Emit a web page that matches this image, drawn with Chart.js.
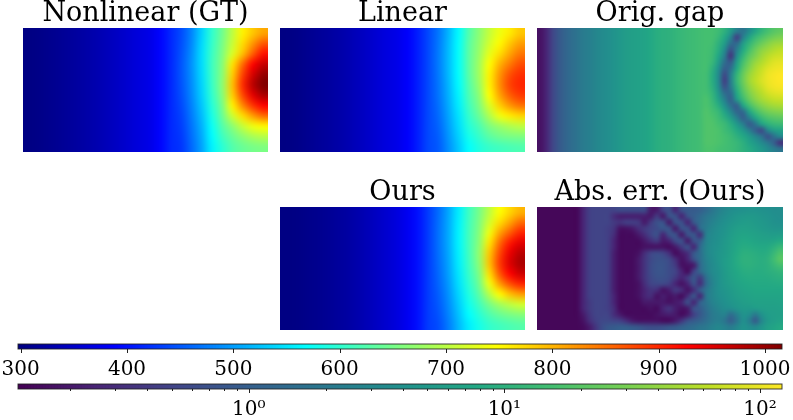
<!DOCTYPE html>
<html><head><meta charset="utf-8">
<script src="https://cdn.jsdelivr.net/npm/chart.js@4"></script>
<style>html,body{margin:0;padding:0;background:#fff;width:793px;height:420px;overflow:hidden}canvas{position:absolute;display:block}</style>
</head><body>
<script>
const titles=["Nonlinear (GT)","Linear","Orig. gap","Ours","Abs. err. (Ours)"];
const jetTicks=[300,400,500,600,700,800,900,1000];
const logMajor=[1,10,100];
const logMajorLabels=["10⁰","10¹","10²"];
const logMinor=[0.2,0.3,0.4,0.5,0.6,0.7,0.8,0.9,2,3,4,5,6,7,8,9,20,30,40,50,60,70,80,90];
const jetRange=[297.5,1016];
const logRange=[0.125,122];

const gtLeft=[300,303,307,311,316,321,327,333,340,348,356,364,372,390,415];
const gtRight=[
[440,480,535,600,645,700,755,785,810],
[442,483,540,603,650,707,770,820,865],
[445,487,543,607,655,720,790,860,915],
[447,490,542,610,660,765,850,925,965],
[447,488,540,608,662,780,880,955,1000],
[445,486,537,605,665,790,895,975,1015],
[442,483,533,600,660,780,875,945,985],
[438,478,527,592,650,755,830,890,925],
[434,473,520,583,640,710,770,815,850],
[430,468,513,573,625,665,705,735,750],
[427,464,507,565,610,640,665,685,695],
[424,460,502,558,595,625,640,650,655]];
const linLeft=[300,303,308,313,318,324,331,339,347,356,365,372,385,408,437];
const linRight=[
[470,515,565,625,665,705,735,760,785],
[472,518,568,630,670,715,750,785,815],
[473,520,570,632,675,730,770,810,843],
[473,520,570,632,680,745,800,840,872],
[472,518,568,630,680,755,820,870,893],
[470,515,565,625,675,755,825,880,900],
[468,512,560,620,665,745,810,860,885],
[465,508,555,612,655,720,780,820,845],
[461,503,548,603,640,690,735,760,775],
[457,498,542,592,620,655,675,690,700],
[453,493,535,580,605,630,645,652,655],
[450,488,528,568,590,605,612,618,622]];
const oursLeft=[300,301,304,307,311,316,321,328,336,345,354,364,378,398,428];
const oursRight=[
[463,505,555,610,650,700,745,775,800],
[465,507,558,613,655,715,770,810,850],
[466,508,560,615,660,735,810,860,900],
[466,508,560,615,665,765,850,910,945],
[465,506,558,613,670,785,875,940,975],
[463,503,555,610,665,790,885,950,985],
[460,500,550,605,655,770,865,925,960],
[457,495,545,597,645,735,815,870,900],
[453,490,538,588,630,695,750,790,815],
[449,485,531,578,612,650,680,700,715],
[445,480,524,566,595,622,640,652,660],
[441,475,517,555,582,602,612,620,626]];
const gapLeft=[.17,.25,.5,.8,1.1,1.4,1.7,2.1,2.4,2.8,3.2,3.6,4.2,4.8,5.5,5.9,6.3,6.8,7.8,8.9,9.6,10,11,12,13,13.7,14.7];
const gapRight=[
[15.5,15.5,13.7,10,5.5,2.3,1.7,3.4,6.8,11,15.5,19.5,22],
[15.5,15.5,12,7.8,2.8,.45,2.3,6.8,12,17,22,27,31],
[15.5,14.7,10,5.5,1.5,1.3,5.5,11,18,25,33,41,44],
[15.5,13.7,8.9,3.4,.7,2.3,7.8,15.5,25,36,44,53,61],
[15.5,13,7.3,2.3,.35,3.4,11,21,31,44,57,70,75],
[15.5,12,5.5,1.5,.87,5.5,15.5,27,41,53,70,87,93],
[15.5,10,3.9,1,1.5,7.8,19.5,33,50,66,87,100,107],
[14.7,8.9,3.2,.57,2.3,11,24,41,57,75,100,114,122],
[14.7,8.9,3.2,.45,2.3,12,25,44,61,81,100,114,122],
[14.7,9.6,3.6,.7,2,10,22,38,53,70,93,107,114],
[15.5,11,4.8,1.4,1.3,7.8,18,31,44,57,75,87,93],
[17,12,6.3,2.4,1,5.1,13,24,36,47,57,66,70],
[17,13.7,8.9,3.9,1.5,1,6.8,14.7,24,33,41,47,50],
[18,15.5,12,6.8,3,1.15,1.3,6.8,13.7,21,27,31,33],
[18,17,13.7,9.6,5.5,2.4,1,2.3,6.8,12,17,19.5,21],
[18,18,15.5,13,8.9,4.8,2.4,.87,1.7,5.9,9.6,12,13],
[18,18,17,13.7,11,7.8,4.8,2.4,1,.57,2.8,5.5,6.8],
[18,18,17,15.5,13,10,7.8,5.1,3,1.7,.7,1.5,3],
[18,18,17,15.5,13.7,12,9.6,6.8,4.8,3.2,2,1,.33],
[17,17,15.5,14.7,13.7,12,10,8.4,6.3,4.8,3.4,2.3,1.7]];
const errLeft=[.14,.14,.14,.14,.14,.14,.14];
const errRight=[
[.25,.45,.5,.5,.5,.5,.6,.6,.6,.6,.6,.2,.2,.5,.7,.25,.7,.9,.9,1,1.3,1.8,2.4,3,3.5,3.8,4,4.2,4.2,4,3.8,3.5,3.6],
[.25,.45,.5,.5,.5,.3,.22,.22,.22,.22,.22,.2,.4,.2,.7,.7,.25,.7,1,1.3,1.8,2.2,2.8,3.4,4,4.6,4.8,5,4.8,4.5,4.2,3.8,3.6],
[.25,.45,.5,.5,.5,.4,.35,.45,.45,.4,.2,.4,.7,.7,.2,.7,.7,.25,.8,1.4,2,2.6,3.2,3.8,4.4,5,5.4,5.5,5.2,4.8,4.5,4,3.8],
[.25,.45,.5,.5,.45,.35,.17,.17,.2,.3,.4,.5,.6,.8,.7,.2,.7,.7,.25,1.3,2.2,3,3.6,4.2,5,5.8,6.2,6,5.6,5.2,4.8,4.4,4.4],
[.25,.45,.5,.5,.45,.3,.15,.15,.15,.2,.3,.5,.7,.25,.7,.7,.2,.7,.8,.3,2.4,3.2,3.8,4.5,5.4,6.4,7,6.8,6.4,6,5.6,5.4,5.6],
[.25,.45,.5,.5,.45,.25,.15,.15,.15,.15,.2,.3,.4,.2,.25,.6,.7,.2,.7,.9,2.6,3.4,4,4.8,5.8,7,7.8,7.5,7,6.6,6.5,7,8],
[.25,.45,.5,.5,.45,.25,.15,.15,.15,.15,.17,.17,.17,.17,.15,.2,.4,.7,.25,1.3,2.8,3.6,4.2,5,6,7.5,8.6,8.4,8,7.8,8,9.5,12],
[.25,.45,.5,.5,.45,.22,.15,.15,.15,.17,.3,.5,.6,.5,.3,.15,.2,.3,.8,1.4,2.8,3.6,4.4,5.2,6.4,8,9.5,9.5,9,8.6,9,12,17],
[.25,.45,.5,.5,.45,.22,.15,.15,.15,.2,.35,.55,.7,.7,.55,.3,.17,.25,.7,1.4,2.6,3.4,4.4,5.4,6.6,8.4,10,10,9.5,9,10,14,20],
[.25,.45,.5,.5,.45,.22,.15,.15,.15,.2,.35,.6,.75,.75,.6,.4,.17,.17,.2,1.2,2.4,3.2,4.2,5.4,6.6,8.2,9.5,9.8,9.4,9,9.6,12,15],
[.25,.45,.5,.5,.45,.22,.15,.15,.15,.2,.35,.6,.75,.75,.6,.5,.25,.15,.5,1.2,2.2,3.2,4,5.2,6.4,7.6,8.8,9,8.8,8.8,9.2,10,11],
[.25,.45,.5,.5,.45,.22,.15,.15,.15,.2,.35,.55,.7,.7,.6,.4,.25,.4,.8,.4,1.5,2.8,3.8,5,6,7.2,8,8.4,8.4,8.4,8.6,9,9.5],
[.25,.45,.5,.5,.45,.22,.15,.15,.15,.17,.3,.5,.55,.55,.45,.25,.17,.25,.7,.3,1.3,2.6,3.8,4.8,5.6,6.6,7.4,7.8,8,8,8,8.2,8.4],
[.25,.45,.5,.5,.45,.22,.15,.15,.15,.17,.25,.35,.3,.17,.22,.4,.3,.17,.3,.9,1.8,2.8,3.8,4.5,5.2,6,6.8,7.2,7.6,7.6,7.6,7.6,7.6],
[.25,.45,.5,.5,.45,.25,.15,.15,.15,.17,.25,.3,.17,.22,.17,.2,.15,.3,.8,.25,1.8,2.8,3.6,4.2,4.8,5.6,6.2,6.6,7,7,7,7,7],
[.25,.4,.5,.5,.45,.25,.15,.15,.15,.15,.2,.2,.2,.2,.17,.2,.25,.7,.25,1,1.7,2.6,3.2,3.8,4.4,5,5.6,6,6.4,6.4,6.4,6.4,6.5],
[.25,.4,.5,.5,.45,.3,.15,.15,.15,.15,.15,.17,.15,.25,.35,.22,.17,.2,.7,.9,1.5,2.2,2.8,3.4,3.6,4.4,5,5,5.4,5.8,6,6,6.2],
[.2,.35,.5,.5,.5,.3,.2,.15,.15,.15,.15,.15,.17,.2,.22,.2,.15,.2,.45,.8,1.3,2,2.4,2.6,1.4,2.4,4.2,3.6,2,4,5.4,5.8,6],
[.17,.3,.45,.55,.55,.5,.45,.3,.2,.17,.17,.17,.17,.15,.15,.2,.35,.7,.9,1.1,1.5,2,2.4,1.8,1,1.8,3.8,2.4,.9,2.8,5,5.8,6.5],
[.15,.2,.35,.6,.8,.9,1,1,.9,.8,.7,.65,.65,.7,.8,.9,1.1,1.3,1.5,1.8,2,2.6,3,2.6,2.2,3,4.2,3.6,3.2,4.5,6,7,8]];

const clip=v=>Math.max(0,Math.min(1,v));
const css=(r,g,b)=>`rgb(${Math.round(r*255)},${Math.round(g*255)},${Math.round(b*255)})`;
function jet(t){t=clip(t);return css(clip(1.5-Math.abs(4*t-3)),clip(1.5-Math.abs(4*t-2)),clip(1.5-Math.abs(4*t-1)));}
const vir=[[.267,.005,.329],[.283,.141,.458],[.254,.265,.530],[.207,.372,.553],[.164,.471,.558],[.128,.567,.551],[.135,.659,.518],[.267,.749,.441],[.478,.821,.318],[.741,.873,.150],[.993,.906,.144]];
function viridis(t){t=clip(t)*10;const i=Math.min(9,Math.floor(t)),f=t-i,a=vir[i],b=vir[i+1];return css(a[0]+(b[0]-a[0])*f,a[1]+(b[1]-a[1])*f,a[2]+(b[2]-a[2])*f);}
const jetColor=v=>jet((v-jetRange[0])/(jetRange[1]-jetRange[0]));
const logT=v=>(Math.log10(v)-Math.log10(logRange[0]))/(Math.log10(logRange[1])-Math.log10(logRange[0]));
const logColor=v=>viridis(logT(v));

function canvasAt(l,t,w,h){const c=document.createElement('canvas');c.width=w;c.height=h;c.style.cssText=`left:${l}px;top:${t}px;width:${w}px;height:${h}px`;document.body.appendChild(c);return c;}

const smooth={id:'smooth',afterDatasetsDraw(ch,a,o){
  const A=ch.chartArea,w=Math.round(A.right-A.left),h=Math.round(A.bottom-A.top),x=Math.round(A.left),y=Math.round(A.top);
  const s=document.createElement('canvas');s.width=o.cols;s.height=o.rows;const g=s.getContext('2d');
  g.imageSmoothingEnabled=true;g.drawImage(ch.canvas,x,y,w,h,0,0,o.cols,o.rows);
  const c=ch.ctx;c.save();c.imageSmoothingEnabled=true;c.imageSmoothingQuality='high';c.drawImage(s,x,y,w,h);c.restore();
}};

function panel(left,top,w,h,title,grid,color){
  const rows=grid.length,cols=grid[0].length;
  const labels=grid[0].map((_,i)=>String(i));
  const datasets=grid.map((row,r)=>({data:row.map(()=>[r,r+1]),backgroundColor:row.map(color),borderWidth:0,grouped:false,barPercentage:1,categoryPercentage:1,inflateAmount:1}));
  new Chart(canvasAt(left,top,w,h),{type:'bar',data:{labels,datasets},plugins:[smooth],options:{
    responsive:false,animation:false,layout:{padding:0},events:[],
    plugins:{legend:{display:false},tooltip:{enabled:false},smooth:{rows,cols},
      title:{display:true,text:title,color:'#000',font:{family:'"DejaVu Serif"',size:27,weight:'normal',lineHeight:1},padding:{top:0,bottom:1}}},
    scales:{x:{display:false,offset:true},y:{display:false,min:0,max:rows,reverse:true}}
  }});
}
const join=(L,R)=>R.map(r=>L.concat(r));
panel(23,0,245,152,titles[0],join(gtLeft,gtRight),jetColor);
panel(280,0,245,152,titles[1],join(linLeft,linRight),jetColor);
panel(537,0,246,152,titles[2],join(gapLeft,gapRight),logColor);
panel(280,179,245,151,titles[3],join(oursLeft,oursRight),jetColor);
panel(537,179,246,151,titles[4],join(errLeft,errRight),logColor);

const edge={id:'edge',afterDraw(ch,a,o){
  const A=ch.chartArea,c=ch.ctx,S=ch.scales.x;c.save();c.strokeStyle='#222';c.lineWidth=1;
  c.beginPath();
  (o.major||[]).forEach(v=>{const p=Math.round(S.getPixelForValue(v))+.5;c.moveTo(p,A.bottom);c.lineTo(p,A.bottom+o.majorLen);});
  (o.minor||[]).forEach(v=>{const p=Math.round(S.getPixelForValue(v))+.5;c.moveTo(p,A.bottom);c.lineTo(p,A.bottom+o.minorLen);});
  c.stroke();c.strokeStyle='rgba(30,30,30,.85)';c.strokeRect(A.left,A.top,A.right-A.left,A.bottom-A.top);c.restore();
}};
function colorbar(top,height,axisH,range,type,ticks,labels,minor,color,steps,pad){
  const a=type==='logarithmic'?Math.log10(range[0]):range[0],b=type==='logarithmic'?Math.log10(range[1]):range[1];
  const un=v=>type==='logarithmic'?Math.pow(10,v):v;
  const datasets=[];
  for(let i=0;i<steps;i++){const lo=un(a+(b-a)*i/steps),hi=un(a+(b-a)*(i+1)/steps);
    datasets.push({data:[[lo,hi]],backgroundColor:color((lo+hi)/2),borderWidth:0,grouped:false,barPercentage:1,categoryPercentage:1,inflateAmount:1});}
  new Chart(canvasAt(0,top,793,height),{type:'bar',data:{labels:['bar'],datasets},plugins:[edge],options:{
    indexAxis:'y',responsive:false,animation:false,events:[],layout:{padding:{left:18,right:11,top:4,bottom:0}},
    plugins:{legend:{display:false},tooltip:{enabled:false},title:{display:false},edge:{major:ticks,minor,majorLen:4,minorLen:2}},
    scales:{
      y:{display:false,offset:true},
      x:{type,min:range[0],max:range[1],position:'bottom',
        grid:{display:false,drawTicks:false},border:{display:false},
        afterBuildTicks:s=>{s.ticks=ticks.map(v=>({value:v,major:true}));},
        afterFit:s=>{s.height=axisH;s.paddingLeft=0;s.paddingRight=0;},
        ticks:{autoSkip:false,maxRotation:0,minRotation:0,padding:pad,color:'#000',font:{family:'"DejaVu Serif"',size:20},
          callback:(v,i)=>labels[i]}}
    }
  }});
}
colorbar(340,42,33,jetRange,'linear',jetTicks,jetTicks.map(String),[],jetColor,256,9);
colorbar(380,40,31,logRange,'logarithmic',logMajor,logMajorLabels,logMinor,logColor,256,9);
</script>
</body></html>
